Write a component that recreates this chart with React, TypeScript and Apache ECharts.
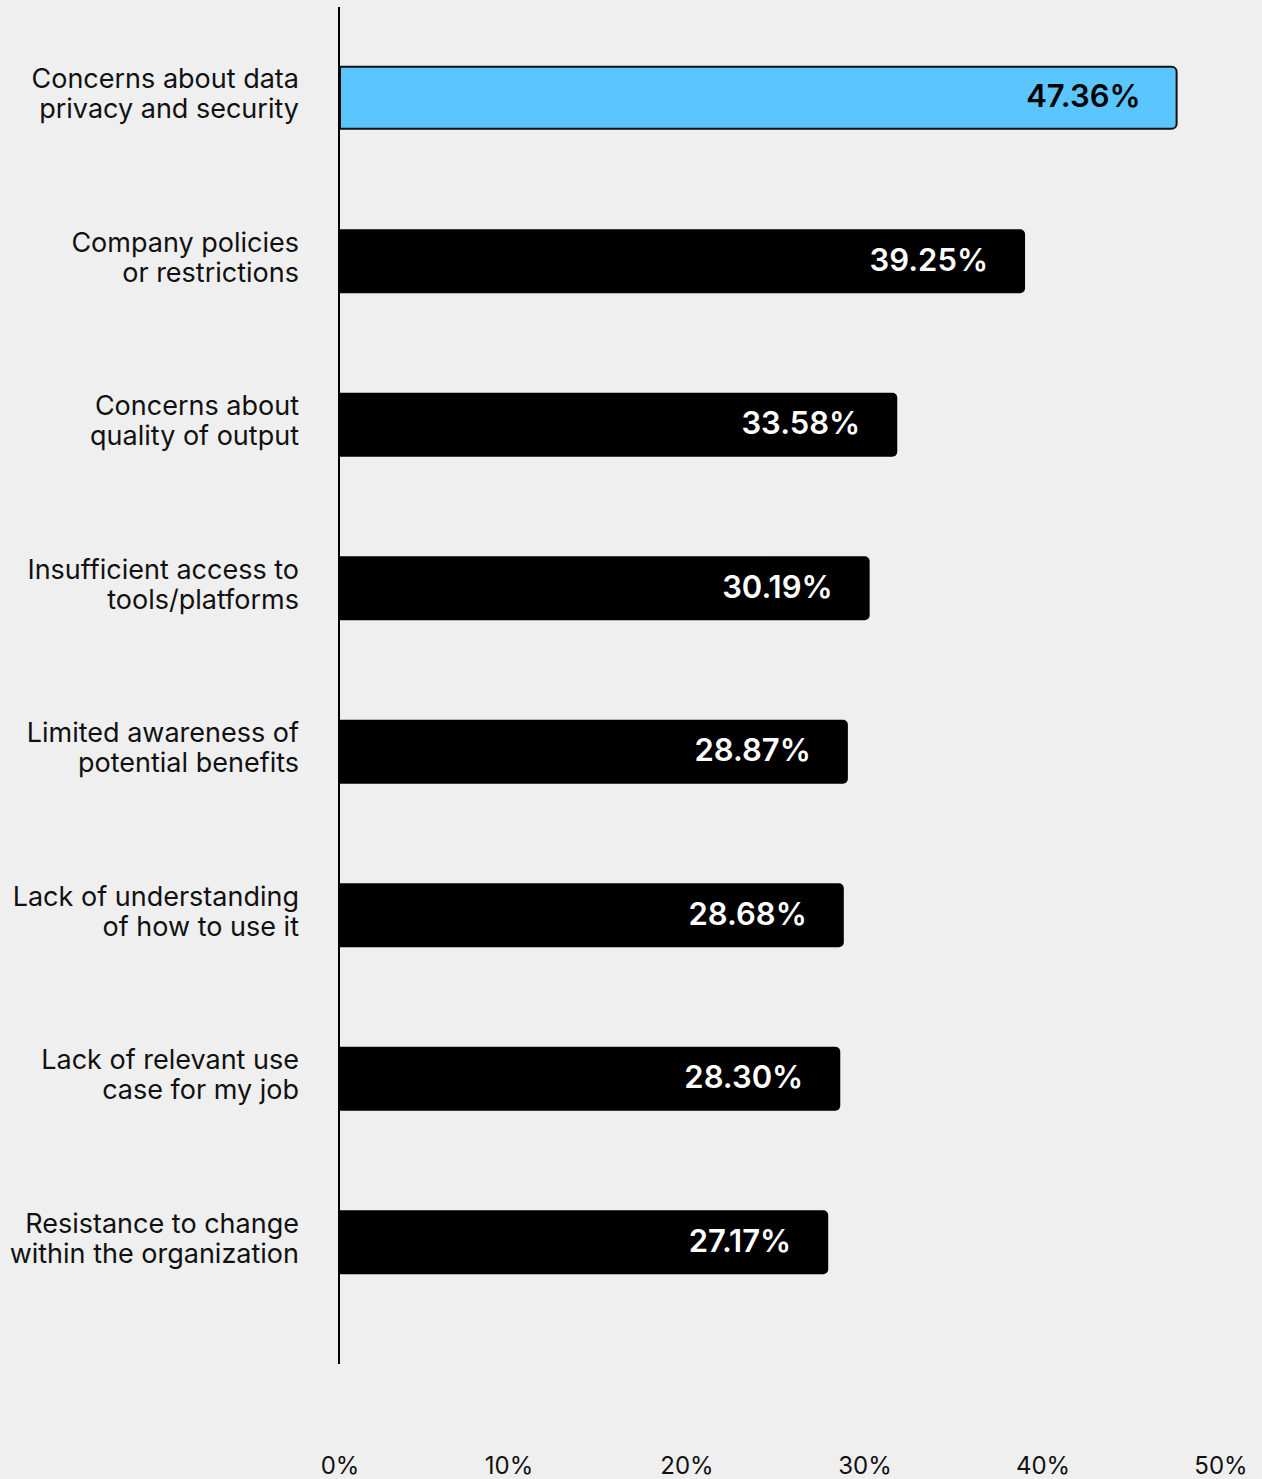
import React, { useEffect, useRef } from "react";
import * as echarts from "echarts";

const categories = [
  "Concerns about data\nprivacy and security",
  "Company policies\nor restrictions",
  "Concerns about\nquality of output",
  "Insufficient access to\ntools/platforms",
  "Limited awareness of\npotential benefits",
  "Lack of understanding\nof how to use it",
  "Lack of relevant use\ncase for my job",
  "Resistance to change\nwithin the organization",
];
// printed percentages
const labelValues = [47.36, 39.25, 33.58, 30.19, 28.87, 28.68, 28.3, 27.17];
const barValues = [47.38, 38.76, 31.54, 29.98, 28.75, 28.52, 28.32, 27.64];
const highlightIndex = 0;
const tickValues = [0, 10, 20, 30, 40, 50];

const BG = "#efefef";
const BLUE = "#5bc6fe";
const FONT = "Inter, 'Noto Sans', sans-serif";

export default function App() {
  const ref = useRef<HTMLDivElement>(null);
  useEffect(() => {
    document.body.style.margin = "0";
    document.body.style.background = BG;
    const chart = echarts.init(ref.current!, null, { renderer: "svg" });
    const data = barValues.map((v, i) => ({
      value: v,
      printed: labelValues[i],
      itemStyle:
        i === highlightIndex
          ? { color: BLUE, borderColor: "#111", borderWidth: 2, borderRadius: [0, 5, 5, 0] }
          : { color: "#000", borderRadius: [0, 5, 5, 0] },
      label: { color: i === highlightIndex ? "#000" : "#fff" },
    }));
    chart.setOption({
      animation: false,
      backgroundColor: BG,
      grid: [
        { left: 339, right: 38, top: 16, height: 1308, containLabel: false },
        { left: 331, right: 41, top: 1438, height: 2, containLabel: false },
      ],
      xAxis: [
        {
          type: "value",
          gridIndex: 0,
          min: 0,
          max: 50,
          interval: 10,
          axisLine: { show: false },
          axisTick: { show: false },
          axisLabel: { show: false },
          splitLine: { show: false },
        },
        {
          type: "value",
          gridIndex: 1,
          min: 0,
          max: 50,
          interval: 10,
          axisLine: { show: false },
          axisTick: { show: false },
          splitLine: { show: false },
          axisLabel: {
            margin: 13,
            fontSize: 24,
            fontFamily: FONT,
            color: "#111",
            formatter: (v: number) =>
              v === 0 ? "{z|0%}" : tickValues.includes(v) ? v + "%" : "",
            rich: {
              z: { fontSize: 24, fontFamily: FONT, color: "#111", padding: [0, 0, 0, 18] },
            },
          },
        },
      ],
      yAxis: [
        {
          type: "category",
          gridIndex: 0,
          data: categories,
          inverse: true,
          axisLine: { show: false },
          axisTick: { show: false },
          axisLabel: {
            margin: 40,
            align: "right",
            formatter: (v: string) =>
              v
                .split("\n")
                .map((l) => `{a|${l}}`)
                .join("\n") + "\n{s| }",
            rich: {
              a: { fontSize: 27, lineHeight: 30, fontFamily: FONT, color: "#111" },
              s: { fontSize: 1, lineHeight: 8 },
            },
          },
        },
        { type: "value", gridIndex: 1, show: false },
      ],
      series: [
        {
          type: "bar",
          xAxisIndex: 0,
          yAxisIndex: 0,
          barWidth: 64,
          data,
          label: {
            show: true,
            position: "insideRight",
            distance: 37,
            offset: [0, -2],
            fontSize: 31,
            fontWeight: 600,
            fontFamily: FONT,
            formatter: (p: any) => p.data.printed.toFixed(2) + "%",
          },
        },
      ],
      graphic: [
        {
          type: "line",
          shape: { x1: 339, y1: 7, x2: 339, y2: 1364 },
          style: { stroke: "#000", lineWidth: 2 },
          z: 100,
        },
      ],
    });
    return () => chart.dispose();
  }, []);
  return <div ref={ref} style={{ width: 1262, height: 1479, background: BG }} />;
}
